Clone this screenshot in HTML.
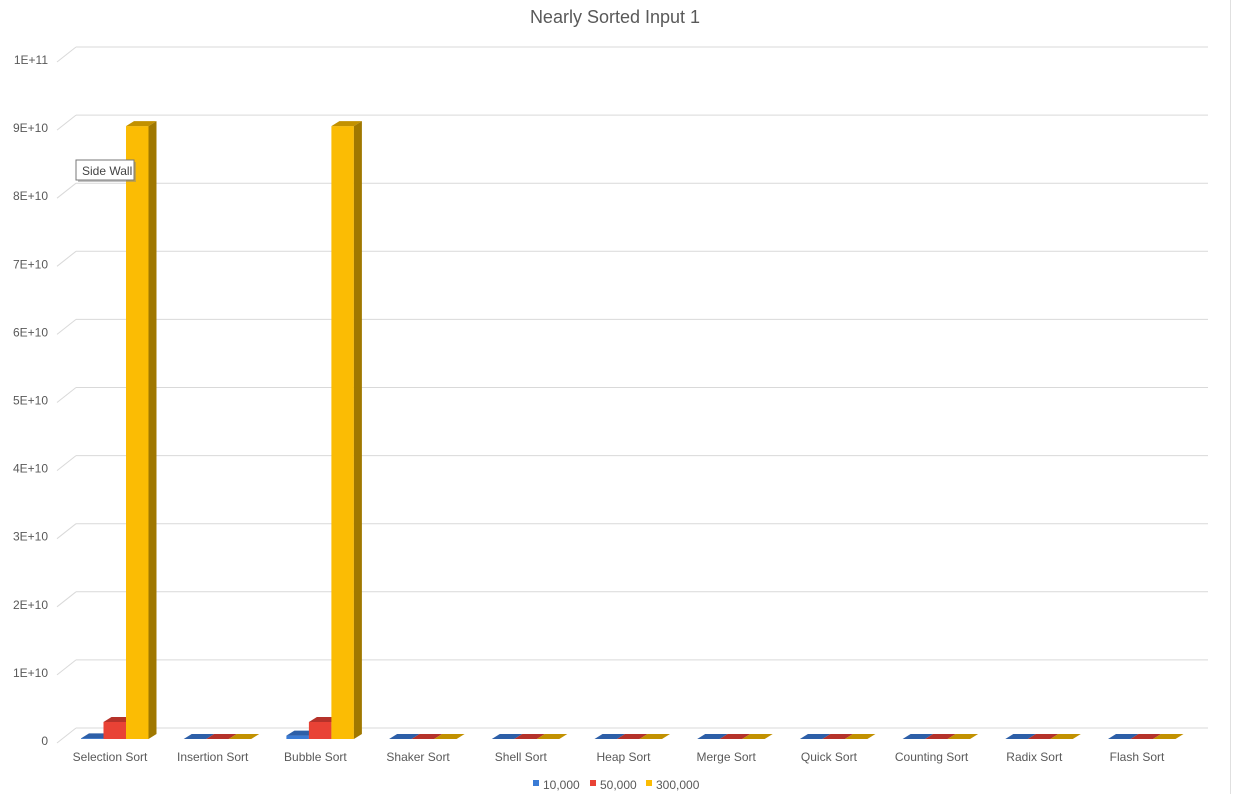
<!DOCTYPE html>
<html><head><meta charset="utf-8"><style>
body{margin:0;background:#fff;font-family:"Liberation Sans",sans-serif}
svg text{font-family:"Liberation Sans",sans-serif}
</style></head><body>
<svg width="1233" height="794">
<line x1="1230.5" y1="0" x2="1230.5" y2="794" stroke="#e0e0e0"/>
<text x="615" y="23" text-anchor="middle" font-size="18" fill="#595959">Nearly Sorted Input 1</text>
<g id="grid"></g><g id="bars"></g><g id="xl"></g>
<g>
<rect x="78" y="162" width="58" height="20" fill="#888" opacity="0.5"/>
<rect x="76" y="160" width="58" height="20" fill="#fff" stroke="#777"/>
<text x="82" y="175" font-size="12" fill="#444">Side Wall</text></g>
<g>
<rect x="533" y="780" width="6" height="6" fill="#3a7bd5"/><text x="543" y="789" font-size="12" fill="#595959">10,000</text>
<rect x="590" y="780" width="6" height="6" fill="#e94235"/><text x="600" y="789" font-size="12" fill="#595959">50,000</text>
<rect x="646" y="780" width="6" height="6" fill="#fbbc04"/><text x="656" y="789" font-size="12" fill="#595959">300,000</text></g>
</svg>
<script>
const categories=["Selection Sort","Insertion Sort","Bubble Sort","Shaker Sort","Shell Sort","Heap Sort","Merge Sort","Quick Sort","Counting Sort","Radix Sort","Flash Sort"];
const s10k=[1e8,0,5e8,0,0,0,0,0,0,0,0];
const s50k=[2.5e9,0,2.5e9,0,0,0,0,0,0,0,0];
const s300k=[9e10,0,9e10,0,0,0,0,0,0,0,0];
const ticks=["0","1E+10","2E+10","3E+10","4E+10","5E+10","6E+10","7E+10","8E+10","9E+10","1E+11"];
const NS="http://www.w3.org/2000/svg";
function mk(t,a,p){const e=document.createElementNS(NS,t);for(const k in a)e.setAttribute(k,a[k]);p.appendChild(e);return e;}
const y=v=>739-v/1e10*68.1;
const xc=i=>110+i*102.7;
const grid=document.getElementById('grid'),bars=document.getElementById('bars'),xl=document.getElementById('xl');
ticks.forEach((t,i)=>{const yy=y(i*1e10);
 const g=mk('g',{},grid);
 
 
 mk('line',{x1:57,y1:yy+4,x2:76,y2:yy-11,stroke:'#d9d9d9'},g);
 mk('line',{x1:76,y1:yy-11,x2:1208,y2:yy-11,stroke:'#d9d9d9'},g);
 const tx=mk('text',{x:48,y:yy+6,'text-anchor':'end','font-size':12,fill:'#595959'},grid);tx.textContent=t;
 
 
});
const series=[[s10k,'#3a7bd5','#2d5fa8','#2d5fa8'],[s50k,'#e94235','#b5322a','#b5322a'],[s300k,'#fbbc04','#c29100','#a07800']];
categories.forEach((c,i)=>{
 series.forEach((s,j)=>{const v=s[0][i];const x0=xc(i)-29+j*22.5,w=22.5,top=y(v),b=739,dx=8,dy=5;
  const g=mk('g',{},bars);
  
  
  mk('rect',{x:x0,y:top,width:w,height:b-top,fill:s[1]},g);
  mk('polygon',{points:`${x0},${top} ${x0+dx},${top-dy} ${x0+w+dx},${top-dy} ${x0+w},${top}`,fill:s[2]},g);
  mk('polygon',{points:`${x0+w},${top} ${x0+w+dx},${top-dy} ${x0+w+dx},${b-dy} ${x0+w},${b}`,fill:s[3]},g);
 });
 const t=mk('text',{x:xc(i),y:761,'text-anchor':'middle','font-size':12,fill:'#595959'},xl);t.textContent=c;
 
 
});
</script>
</body></html>
